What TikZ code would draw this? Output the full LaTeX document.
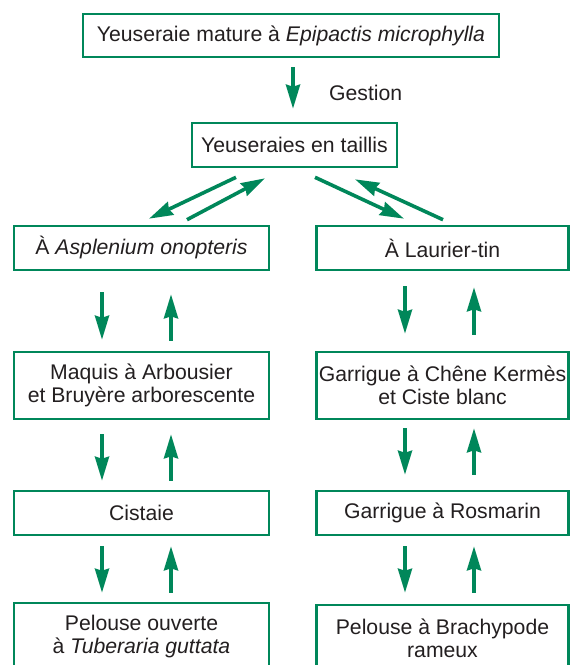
\documentclass[tikz,border=0pt]{standalone}
\usepackage{fontspec}
\setmainfont{Liberation Sans}
\usetikzlibrary{arrows.meta,positioning}
\definecolor{yewgreen}{HTML}{00875A}
\definecolor{yewink}{HTML}{231F20}

\begin{document}
\begin{tikzpicture}[x=1pt, y=-1pt, >={Stealth[length=24pt,width=14pt,inset=2pt]},
  font=\fontsize{21.2}{23.5}\selectfont, text=yewink,
  stage/.style={draw=yewgreen, line width=2.6pt, fill=white, inner sep=0pt, align=center, minimum height=44pt},
  flow/.style={->, yewgreen, line width=3.6pt}]
  \fill[white] (0,0) rectangle (570,665);
  \useasboundingbox (0,0) rectangle (570,665);
  \clip (0,0) rectangle (570,665);
  % top of the series
  \node[stage, minimum width=416pt, minimum height=43pt] (mature) at (291,35.5) {Yeuseraie mature à \textit{Epipactis microphylla}};
  \node[stage, minimum width=205pt] (taillis) at (294.5,145) {Yeuseraies en taillis};
  \draw[flow] ([xshift=2pt,yshift=-9pt]mature.south) -- ([xshift=-1.5pt,yshift=13pt]taillis.north);
  \node[anchor=base west, inner sep=0pt] (gestion) at (329,100) {Gestion};
  % two columns
  \node[stage, minimum width=255pt] (asp) at (141.5,248) {À \textit{Asplenium onopteris}};
  \node[stage, minimum width=252pt] (laur) at (442.5,248) {À Laurier-tin};
  \node[stage, minimum width=255pt, minimum height=67pt] (maquis) at (141.5,385.5) {Maquis à Arbousier\\et Bruyère arborescente};
  \node[stage, minimum width=252pt, minimum height=67pt] (kermes) at (442.5,385.5) {Garrigue à Chêne Kermès\\et Ciste blanc};
  \node[stage, minimum width=255pt] (cistaie) at (141.5,513) {Cistaie};
  \node[stage, minimum width=252pt] (rosmarin) at (442.5,513) {Garrigue à Rosmarin};
  \node[stage, minimum width=255pt, minimum height=67pt] (tuberaria) at (141.5,636.5) {Pelouse ouverte\\à \textit{Tuberaria guttata}};
  \node[stage, minimum width=252pt, minimum height=67pt] (brachy) at (442.5,638.5) {Pelouse à Brachypode\\rameux};
  % diagonal pairs
  \draw[flow] ([xshift=-58.5pt,yshift=-9pt]taillis.south) -- ([xshift=7.5pt,yshift=6pt]asp.north);
  \draw[flow] ([xshift=45.5pt,yshift=5pt]asp.north) -- ([xshift=-29.5pt,yshift=-10pt]taillis.south);
  \draw[flow] ([xshift=20.5pt,yshift=-9pt]taillis.south) -- ([xshift=-38.5pt,yshift=6pt]laur.north);
  \draw[flow] ([xshift=0.5pt,yshift=5pt]laur.north) -- ([xshift=60.5pt,yshift=-11pt]taillis.south);
  % left column
  \draw[flow] ([xshift=-39.5pt,yshift=-21pt]asp.south) -- ([xshift=-39.5pt,yshift=11pt]maquis.north);
  \draw[flow] ([xshift=29.5pt,yshift=10pt]maquis.north) -- ([xshift=29.5pt,yshift=-23pt]asp.south);
  \draw[flow] ([xshift=-39.5pt,yshift=-14pt]maquis.south) -- ([xshift=-39.5pt,yshift=9pt]cistaie.north);
  \draw[flow] ([xshift=29.5pt,yshift=9pt]cistaie.north) -- ([xshift=29.5pt,yshift=-14pt]maquis.south);
  \draw[flow] ([xshift=-39.5pt,yshift=-10pt]cistaie.south) -- ([xshift=-39.5pt,yshift=9pt]tuberaria.north);
  \draw[flow] ([xshift=29.5pt,yshift=9pt]tuberaria.north) -- ([xshift=29.5pt,yshift=-10pt]cistaie.south);
  % right column
  \draw[flow] ([xshift=-37.5pt,yshift=-15pt]laur.south) -- ([xshift=-37.5pt,yshift=17pt]kermes.north);
  \draw[flow] ([xshift=31.5pt,yshift=16pt]kermes.north) -- ([xshift=31.5pt,yshift=-16pt]laur.south);
  \draw[flow] ([xshift=-37.5pt,yshift=-8pt]kermes.south) -- ([xshift=-37.5pt,yshift=15pt]rosmarin.north);
  \draw[flow] ([xshift=31.5pt,yshift=15pt]rosmarin.north) -- ([xshift=31.5pt,yshift=-8pt]kermes.south);
  \draw[flow] ([xshift=-37.5pt,yshift=-10pt]rosmarin.south) -- ([xshift=-37.5pt,yshift=11pt]brachy.north);
  \draw[flow] ([xshift=31.5pt,yshift=11pt]brachy.north) -- ([xshift=31.5pt,yshift=-10pt]rosmarin.south);
\end{tikzpicture}
\end{document}
